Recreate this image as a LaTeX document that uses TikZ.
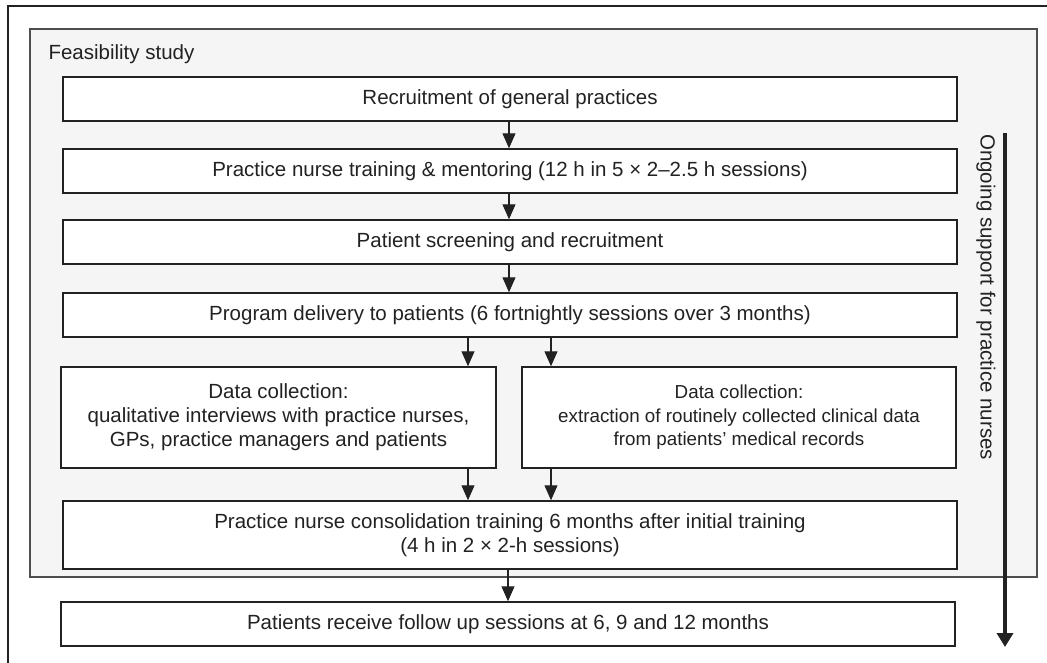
\documentclass[tikz,border=0pt]{standalone}
\usepackage{fontspec}
\setmainfont{Liberation Sans}
\usetikzlibrary{arrows.meta}
\definecolor{ink}{HTML}{222222}
\definecolor{feasgray}{HTML}{F5F5F5}
\begin{document}
\begin{tikzpicture}[x=1pt,y=-1pt,
  every node/.style={text=ink,font=\fontsize{20.5}{24}\selectfont},
  stepbox/.style={draw=ink,line width=1.5pt,fill=white,minimum width=894pt,minimum height=44pt,inner sep=0pt,align=center},
  arr/.style={draw=ink,line width=1.1pt,-{Triangle[length=15pt,width=13pt]}},
  bigarr/.style={draw=ink,line width=4pt,-{Triangle[length=14pt,width=16pt]}}]
\useasboundingbox (0,0) rectangle (1047,662);
\fill[white] (0,0) rectangle (1047,662);
% outer frame (right and bottom edges lie outside the picture)
\draw[ink,line width=2pt] (8,6) rectangle (1060,680);
% feasibility region
\draw[ink!80,line width=1.6pt,fill=feasgray] (30,29) rectangle (1037,577);
\node[anchor=west] (feas) at (45,54) {Feasibility study};
% boxes
\node[stepbox] (rec) at (510,99) {Recruitment of general practices};
\node[stepbox] (train) at (510,171) {Practice nurse training \& mentoring (12 h in 5 × 2–2.5 h sessions)};
\node[stepbox] (screen) at (510,242) {Patient screening and recruitment};
\node[stepbox] (prog) at (510,315) {Program delivery to patients (6 fortnightly sessions over 3 months)};
\node[stepbox,minimum width=435pt,minimum height=101pt] (dcl) at (278.5,417.5)
  {Data collection:\\qualitative interviews with practice nurses,\\GPs, practice managers and patients};
\node[stepbox,minimum width=434pt,minimum height=101pt,font=\fontsize{18.8}{23.5}\selectfont] (dcr) at (739,417.5)
  {Data collection:\\extraction of routinely collected clinical data\\from patients’ medical records};
\node[stepbox,minimum height=68pt] (cons) at (510,535)
  {Practice nurse consolidation training 6 months after initial training\\(4 h in 2 × 2-h sessions)};
\node[stepbox] (pat) at (508,624) {Patients receive follow up sessions at 6, 9 and 12 months};
% connectors
\draw[arr] ([xshift=-1pt]rec.south) -- ([xshift=-1pt]rec.south |- train.north);
\draw[arr] ([xshift=-1pt]train.south) -- ([xshift=-1pt]train.south |- screen.north);
\draw[arr] ([xshift=-1pt]screen.south) -- ([xshift=-1pt]screen.south |- prog.north);
\draw[arr] ([xshift=-42pt]prog.south) -- ([xshift=-42pt]prog.south |- dcl.north);
\draw[arr] ([xshift=41pt]prog.south) -- ([xshift=41pt]prog.south |- dcr.north);
\draw[arr] ([xshift=-42pt]cons.north |- dcl.south) -- ([xshift=-42pt]cons.north);
\draw[arr] ([xshift=41pt]cons.north |- dcr.south) -- ([xshift=41pt]cons.north);
\draw[arr] ([xshift=-2pt]cons.south) -- ([xshift=-2pt]cons.south |- pat.north);
% ongoing support
\coordinate (sup1) at (1005,133);
\coordinate (sup2) at (1005,647);
\draw[bigarr] (sup1) -- (sup2);
\node[rotate=-90] (ongoing) at (986,297) {Ongoing support for practice nurses};
\end{tikzpicture}
\end{document}
